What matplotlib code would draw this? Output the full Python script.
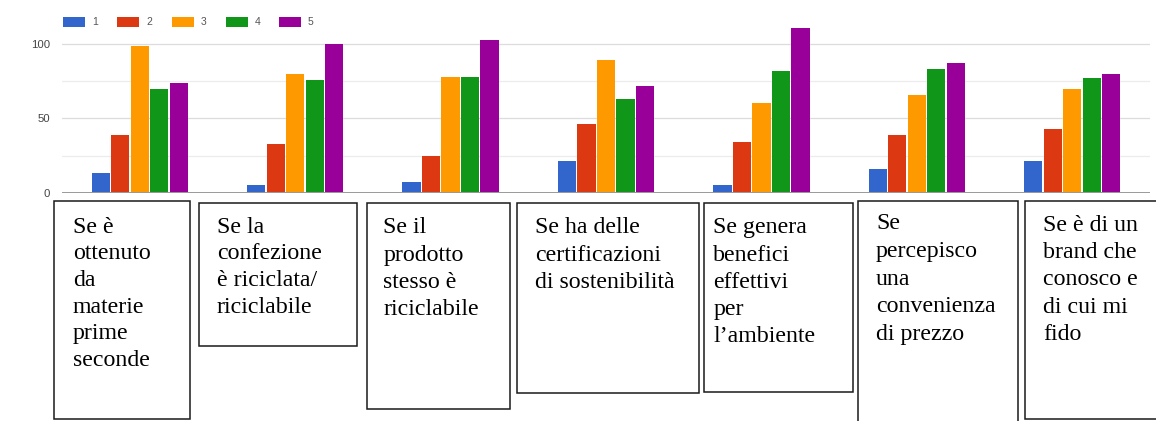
import numpy as np
import matplotlib
matplotlib.use("Agg")
import matplotlib.pyplot as plt
from matplotlib.patches import Rectangle

# ---- data -------------------------------------------------------------
categories = [
    "Se è\nottenuto\nda\nmaterie\nprime\nseconde",
    "Se la\nconfezione\nè riciclata/\nriciclabile",
    "Se il\nprodotto\nstesso è\nriciclabile",
    "Se ha delle\ncertificazioni\ndi sostenibilità",
    "Se genera\nbenefici\neffettivi\nper\nl\u2019ambiente",
    "Se\npercepisco\nuna\nconvenienza\ndi prezzo",
    "Se è di un\nbrand che\nconosco e\ndi cui mi\nfido",
]
series_names = ["1", "2", "3", "4", "5"]
score_1 = [13, 5, 7, 21, 5, 16, 21]
score_2 = [39, 33, 25, 46, 34, 39, 43]
score_3 = [99, 80, 78, 89, 60, 66, 70]
score_4 = [70, 76, 78, 63, 82, 83, 77]
score_5 = [74, 100, 103, 72, 111, 87, 80]
y_ticks = [0, 50, 100]

series = [score_1, score_2, score_3, score_4, score_5]
colors = ["#3366cc", "#dc3912", "#ff9900", "#109618", "#990099"]

# ---- figure -----------------------------------------------------------
W, H = 1156, 421
fig = plt.figure(figsize=(W / 100, H / 100), dpi=100)
fig.patch.set_facecolor("white")


def fx(px):
    return px / W


def fy(py):
    return 1 - py / H


# plot area in pixel terms: baseline at y=192.7, x from 62 to 1150
y0_px, px_per_unit, y_top = 192.7, 1.4867, 125
ax_left, ax_right = 62, 1150
ax = fig.add_axes([fx(ax_left), fy(y0_px), (ax_right - ax_left) / W,
                   y_top * px_per_unit / H])

n = len(categories)
x = np.arange(n)
pitch, width = 0.1255, 0.117
for j, (vals, c) in enumerate(zip(series, colors)):
    ax.bar(x + (j - 2) * pitch, vals, width, color=c, zorder=3, linewidth=0)

ax.set_xlim(-0.5, n - 0.5)
ax.set_ylim(0, y_top)
ax.set_xticks([])
ax.set_yticks(y_ticks)
ax.set_yticks([25, 75], minor=True)
ax.grid(axis="y", which="major", color="#dcdcdc", linewidth=0.9, zorder=0)
ax.grid(axis="y", which="minor", color="#ececec", linewidth=0.9, zorder=0)
ax.axhline(0, color="#9a9a9a", linewidth=1.4, zorder=4)
ax.tick_params(axis="y", which="both", length=0, pad=8.6,
               labelsize=8.2, labelcolor="#444444")
for lab in ax.get_yticklabels():
    lab.set_fontfamily("Liberation Sans")
for s in ax.spines.values():
    s.set_visible(False)

# ---- legend -----------------------------------------------------------
leg_x = [63, 117, 172, 226, 279]
for lx, name, c in zip(leg_x, series_names, colors):
    fig.add_artist(Rectangle((fx(lx), fy(27)), 22 / W, 10 / H,
                             transform=fig.transFigure, color=c, lw=0))
    fig.text(fx(lx + 29), fy(22), name, fontsize=7.5, color="#555555",
             family="Liberation Sans", va="center", ha="left")

# ---- category boxes ---------------------------------------------------
boxes = [(54.3, 201, 189.7, 418.7), (198.7, 203.3, 356.7, 346),
         (366.7, 202.7, 510, 409), (517.3, 203.3, 699.3, 393.3),
         (704.3, 203.3, 853.3, 391.7), (857.7, 201, 1018.3, 430),
         (1025.3, 201, 1170, 418.7)]
text_x = [72.7, 216.7, 383.3, 535.3, 713.3, 876, 1043.3]
first_base = [232.7, 232.7, 233.3, 233.3, 233.3, 229.3, 230.7]
line_step = [26.7, 26.7, 27.3, 27.3, 27.3, 27.7, 27.3]

for (l, t, r, b), tx, fb, st, label in zip(boxes, text_x, first_base,
                                           line_step, categories):
    fig.add_artist(Rectangle((fx(l), fy(b)), (r - l) / W, (b - t) / H,
                             transform=fig.transFigure, facecolor="white",
                             edgecolor="#1a1a1a", linewidth=1.1, zorder=5))
    for k, line in enumerate(label.split("\n")):
        fig.text(fx(tx), fy(fb + k * st), line, fontsize=17.2,
                 family="Liberation Serif", color="black",
                 ha="left", va="baseline", zorder=6)

fig.savefig("out.png", dpi=100, facecolor="white")
